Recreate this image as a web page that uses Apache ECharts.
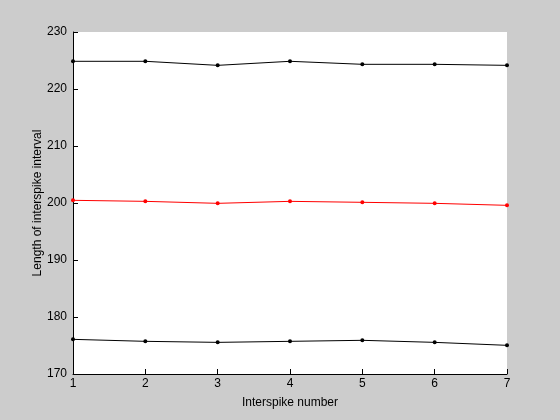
<!DOCTYPE html>
<html><head><meta charset="utf-8">
<script src="https://cdn.jsdelivr.net/npm/echarts@6/dist/echarts.min.js"></script>
<style>html,body{margin:0;padding:0;background:#cccccc;}#c{width:560px;height:420px;}</style>
</head><body><div id="c"></div>
<script>
const xValues = [1, 2, 3, 4, 5, 6, 7];
const upperSeries = [224.86, 224.86, 224.15, 224.86, 224.33, 224.33, 224.15];
const middleSeries = [200.47, 200.29, 199.94, 200.29, 200.12, 199.94, 199.59];
const lowerSeries = [176.08, 175.73, 175.55, 175.73, 175.91, 175.55, 175.03];
const yTicks = [170, 180, 190, 200, 210, 220, 230];

const pairs = a => xValues.map((x, i) => [x, a[i]]);
const font = 'Liberation Sans, Arial, sans-serif';
const mk = (data, color) => ({
  type: 'line', data: pairs(data), symbol: 'circle', symbolSize: 4,
  lineStyle: {color, width: 1}, itemStyle: {color}, animation: false
});
const chart = echarts.init(document.getElementById('c'));
chart.setOption({
  backgroundColor: '#cccccc',
  animation: false,
  grid: {left: 73, right: 53, top: 32, bottom: 46, show: true, backgroundColor: '#ffffff', borderWidth: 0},
  xAxis: {
    type: 'value', min: 1, max: 7, interval: 1,
    name: 'Interspike number', nameLocation: 'middle', nameGap: 23, nameMoveOverlap: false,
    nameTextStyle: {color: '#000', fontFamily: font, fontSize: 12},
    axisLine: {lineStyle: {color: '#000', width: 1}},
    axisTick: {inside: true, length: 5, lineStyle: {color: '#000'}},
    axisLabel: {color: '#000', fontFamily: font, fontSize: 12, margin: 4},
    splitLine: {show: false}
  },
  yAxis: {
    type: 'value', min: yTicks[0], max: yTicks[yTicks.length - 1], interval: 10,
    name: 'Length of interspike interval', nameLocation: 'middle', nameGap: 29, nameMoveOverlap: false,
    nameTextStyle: {color: '#000', fontFamily: font, fontSize: 12},
    axisLine: {show: true, lineStyle: {color: '#000', width: 1}},
    axisTick: {show: true, inside: true, length: 5, lineStyle: {color: '#000'}},
    axisLabel: {color: '#000', fontFamily: font, fontSize: 12, margin: 6},
    splitLine: {show: false}
  },
  series: [mk(upperSeries, '#000000'), mk(middleSeries, '#ff0000'), mk(lowerSeries, '#000000')]
});
</script></body></html>
